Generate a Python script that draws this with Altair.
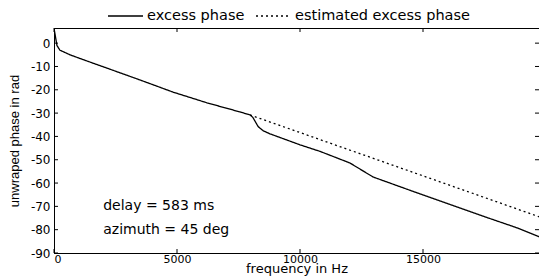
import altair as alt
import pandas as pd

# data
freq_meas = [0, 40, 120, 240, 650, 1300, 2150, 3500, 4840, 6220, 7560, 7970, 8080,
             8300, 8510, 8780, 10000, 10810, 12030, 12970, 14760, 16100, 17440,
             18820, 19950]
phase_meas = [6.3, 4, -1, -3, -5, -7.5, -10.7, -15.8, -21, -25.6, -29.5, -30.8, -31.8,
              -35.8, -37.6, -38.9, -43.6, -46.4, -51.4, -57.4, -64.2, -69.2, -74.2,
              -79.2, -84]
freq_est = [7970, 19950]
phase_est = [-30.8, -75.3]
series_names = ["excess phase", "estimated excess phase"]
notes = ["delay = 583 ms", "azimuth = 45 deg"]
note_freq = [2000, 2000]
note_phase = [-69.8, -80]
x_ticks = [0, 5000, 10000, 15000]
y_ticks = [0, -10, -20, -30, -40, -50, -60, -70, -80, -90]

W, H = 485, 225
FONT = "DejaVu Sans"

df = pd.concat([
    pd.DataFrame({"f": freq_meas, "p": phase_meas, "s": series_names[0]}),
    pd.DataFrame({"f": freq_est, "p": phase_est, "s": series_names[1]}),
])
notes_df = pd.DataFrame({"f": note_freq, "p": note_phase, "t": notes})
xt_df = pd.DataFrame({"f": x_ticks})
yt_df = pd.DataFrame({"p": y_ticks})

xscale = alt.Scale(domain=[0, 19715], nice=False, zero=False)
yscale = alt.Scale(domain=[-90, 6.5], nice=False, zero=False)
x_axis = alt.Axis(values=x_ticks, format="d", title="frequency in Hz",
                  labelPadding=0, tickSize=0, labelFontSize=11,
                  titleBaseline="alphabetic", titleY=19, labelOverlap=False)
y_axis = alt.Axis(values=y_ticks, title="unwraped phase in rad",
                  labelExpr="'' + datum.value", titlePadding=9,
                  labelPadding=4, tickSize=0, labelOverlap=False)
X = alt.X("f:Q", scale=xscale, axis=x_axis, title="frequency in Hz")
Y = alt.Y("p:Q", scale=yscale, axis=y_axis, title="unwraped phase in rad")

lines = alt.Chart(df).mark_line(color="black", strokeWidth=1.3, clip=True).encode(
    x=X, y=Y,
    strokeDash=alt.StrokeDash(
        "s:N",
        scale=alt.Scale(domain=series_names, range=[[1, 0], [2, 3]]),
        legend=alt.Legend(orient="none", legendX=53, legendY=-30.5,
                          direction="horizontal",
                          title=None, symbolType="stroke", symbolSize=1225,
                          symbolStrokeColor="black", symbolStrokeWidth=1.4,
                          labelFont=FONT, labelFontSize=14.5, labelColor="black",
                          labelLimit=400, columnPadding=8, labelOffset=3),
    ),
    order=alt.Order("f:Q"),
)

texts = alt.Chart(notes_df).mark_text(align="left", baseline="middle", font=FONT,
                                      fontSize=14, color="black").encode(
    x=X, y=Y, text="t:N")

# inward tick marks on all four sides
tick_bottom = alt.Chart(xt_df).mark_rule(color="black").encode(
    x=X, y=alt.value(H), y2=alt.value(H - 4))
tick_top = alt.Chart(xt_df).mark_rule(color="black").encode(
    x=X, y=alt.value(0), y2=alt.value(4))
tick_left = alt.Chart(yt_df).mark_rule(color="black").encode(
    y=Y, x=alt.value(0), x2=alt.value(4))
tick_right = alt.Chart(yt_df).mark_rule(color="black").encode(
    y=Y, x=alt.value(W), x2=alt.value(W - 4))

chart = (lines + texts + tick_bottom + tick_top + tick_left + tick_right).properties(
    width=W, height=H,
    autosize=alt.AutoSizeParams(type="none"),
    padding={"left": 46, "top": 20, "right": 0, "bottom": 24},
).configure_view(stroke="black", strokeWidth=1).configure_axis(
    labelFont=FONT, labelFontSize=12, labelColor="black", titleFont=FONT,
    titleFontWeight="normal", titleColor="black", domainColor="black",
    tickColor="black", grid=False,
).configure_axisY(titleFont="Liberation Sans", titleFontSize=13
).configure_axisX(titleFontSize=13)

chart.save("out.html", embed_options={"renderer": "svg", "actions": False})
